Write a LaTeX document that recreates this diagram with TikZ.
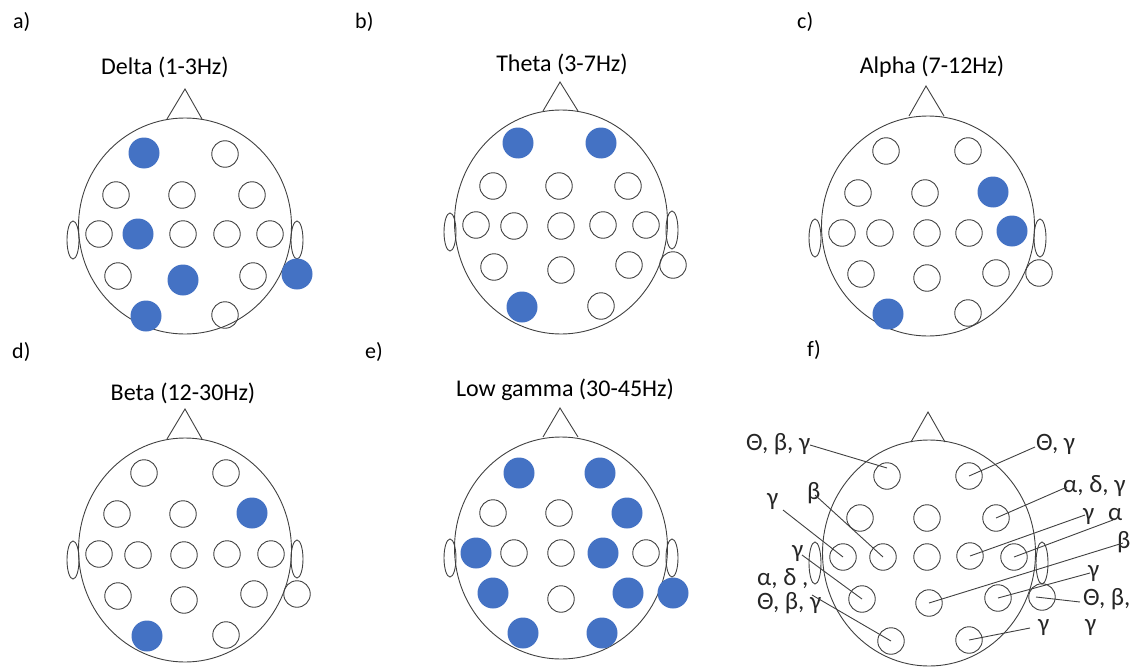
\documentclass[tikz,border=0pt]{standalone}
\usepackage{fontspec}
\setmainfont{Carlito}
\usetikzlibrary{shapes.geometric}
\definecolor{eblue}{HTML}{4472C4}
\definecolor{lgray}{HTML}{404040}
\tikzset{
  el/.style={circle, draw=lgray, line width=0.9pt, minimum size=26.5pt, inner sep=0pt},
  elf/.style={circle, fill=eblue, minimum size=31pt, inner sep=0pt},
  headc/.style={ellipse, draw=lgray, line width=0.9pt, inner sep=0pt, minimum width=213pt},
  nose/.style={draw=lgray, line width=0.9pt, line join=miter},
  ear/.style={ellipse, draw=lgray, line width=0.9pt, minimum width=12pt, minimum height=38pt, inner sep=0pt},
  ttl/.style={font=\fontsize{24}{28}\selectfont, inner sep=0pt, anchor=base},
  plabel/.style={font=\fontsize{22}{26}\selectfont, inner sep=0pt, anchor=base west},
  glbl/.style={font=\fontsize{25}{29}\selectfont, inner sep=0pt, anchor=base west, text=black!85},
  lead/.style={draw=lgray, line width=0.9pt},
}
\begin{document}
\begin{tikzpicture}[x=1pt,y=-1pt]
\useasboundingbox (0,0) rectangle (1142,666);
% panel letters
\node[plabel] (la) at (13,29) {a)};
\node[plabel] (lb) at (355,29) {b)};
\node[plabel] (lc) at (797,29) {c)};
\node[plabel] (ld) at (12,358) {d)};
\node[plabel] (le) at (365,358) {e)};
\node[plabel] (lf) at (807,356) {f)};
% titles
\node[ttl] (ta) at (165,75) {Delta (1-3Hz)};
\node[ttl] (tb) at (562,72) {Theta (3-7Hz)};
\node[ttl] (tc) at (932,74) {Alpha (7-12Hz)};
\node[ttl] (td) at (183,400) {Beta (12-30Hz)};
\node[ttl] (te) at (565,396) {Low gamma (30-45Hz)};
% heads
\node[headc, minimum height=216pt] (ha) at (185,226) {};
\draw[nose] (167,119) -- (185,89) -- (202,119);
\node[ear] (eal) at (73,240) {};
\node[ear] (ear) at (297,240) {};

\node[headc, minimum height=224pt] (hb) at (561,222) {};
\draw[nose] (543,111) -- (560,82) -- (578,111);
\node[ear] (ebl) at (450,232) {};
\node[ear] (ebr) at (672,230) {};

\node[headc, minimum height=220pt] (hc) at (928,226) {};
\draw[nose] (909,116) -- (926,86) -- (944,116);
\node[ear] (ecl) at (815,238) {};
\node[ear] (ecr) at (1040,238) {};

\node[headc, minimum height=224pt] (hd) at (185,550) {};
\draw[nose] (167,439) -- (185,409) -- (202,439);
\node[ear] (edl) at (73,560) {};
\node[ear] (edr) at (297,559) {};

\node[headc, minimum height=222pt] (he) at (561,548) {};
\draw[nose] (543,437) -- (560,408) -- (578,437);
\node[ear] (eel) at (450,558) {};
\node[ear] (eer) at (672,558) {};

\node[headc, minimum height=226pt] (hf) at (929,553) {};
\draw[nose] (911,442) -- (928,412) -- (945,442);
\node[ear, minimum height=42pt] (efl) at (815,563) {};
\node[ear, minimum height=42pt] (efr) at (1042,563) {};
% electrodes
\foreach \n/\x/\y/\s in {
 a1/144/153/elf, a2/225/154/el, a3/116/195/el, a4/182/195/el, a5/252/195/el,
 a6/99/234/el, a7/138/234/elf, a8/183/234/el, a9/227/234/el, a10/270/234/el,
 a11/118/276/el, a12/183/280/elf, a13/253/276/el, a14/297/274/elf,
 a15/146/316/elf, a16/225/315/el,
 b1/518/143/elf, b2/601/143/elf, b3/493/186/el, b4/559/186/el, b5/628/186/el,
 b6/476/225/el, b7/514/226/el, b8/561/226/el, b9/603/225/el, b10/646/225/el,
 b11/494/267/el, b12/561/270/el, b13/629/265/el, b14/673/265/el,
 b15/522/307/elf, b16/601/306/el,
 c1/886/151/el, c2/968/151/el, c3/858/193/el, c4/925/193/el, c5/993/192/elf,
 c6/842/233/el, c7/880/233/el, c8/927/233/el, c9/969/233/el, c10/1012/231/elf,
 c11/861/274/el, c12/927/278/el, c13/996/273/el, c14/1039/273/el,
 c15/888/314/elf, c16/968/313/el,
 d1/144/473/el, d2/226/473/el, d3/117/514/el, d4/183/514/el, d5/252/513/elf,
 d6/99/554/el, d7/138/555/el, d8/184/555/el, d9/227/554/el, d10/271/554/el,
 d11/118/596/el, d12/184/600/el, d13/254/594/el, d14/297/594/el,
 d15/147/636/elf, d16/226/635/el,
 e1/519/473/elf, e2/600/473/elf, e3/493/513/el, e4/559/513/el, e5/627/513/elf,
 e6/476/553/elf, e7/514/553/el, e8/561/553/el, e9/603/553/elf, e10/646/553/el,
 e11/493/593/elf, e12/561/599/el, e13/628/593/elf, e14/673/593/elf,
 e15/523/633/elf, e16/602/633/elf,
 f1/887/476/el, f2/969/476/el, f3/860/518/el, f4/927/518/el, f5/996/518/el,
 f6/843/557/el, f7/883/557/el, f8/927/557/el, f9/970/556/el, f10/1014/557/el,
 f11/862/599/el, f12/929/603/el, f13/998/598/el, f14/1042/597/el,
 f15/891/641/el, f16/969/640/el}
 {\node[\s] (\n) at (\x,\y) {};}
% panel f labels
\node[glbl] (g1) at (746,450) {Θ, β, γ};
\node[glbl] (g2) at (1036,450) {Θ, γ};
\node[glbl] (g3) at (1063,492) {α, δ, γ};
\node[glbl] (g4) at (1083,520) {γ};
\node[glbl] (g5) at (1108,520) {α};
\node[glbl] (g6) at (1117,548) {β};
\node[glbl] (g7) at (1088,577) {γ};
\node[glbl] (g8) at (1083,605) {Θ, β,};
\node[glbl] (g8b) at (1085,631) {γ};
\node[glbl] (g9) at (1038,631) {γ};
\node[glbl] (g10) at (807,499) {β};
\node[glbl] (g11) at (767,505) {γ};
\node[glbl] (g12) at (792,557) {γ};
\node[glbl] (g13) at (757,585) {α, δ ,};
\node[glbl] (g13b) at (757,609) {Θ, β, γ};
% leader start points
\coordinate (s1) at (810,445);
\coordinate (s2) at (1035,447);
\coordinate (s3) at (1067,487);
\coordinate (s4) at (1085,515);
\coordinate (s5) at (1113,520);
\coordinate (s6) at (1123,543);
\coordinate (s7) at (1090,573);
\coordinate (s8) at (1080,602);
\coordinate (s9) at (1030,628);
\coordinate (s10) at (815,495);
\coordinate (s11) at (783,510);
\coordinate (s12) at (802,555);
\coordinate (s13) at (812,595);
% leaders
\draw[lead] (s1) -- ([yshift=8pt]f1.center);
\draw[lead] (s2) -- (f2.center);
\draw[lead] (s3) -- (f5.center);
\draw[lead] (s4) -- (f9.center);
\draw[lead] (s5) -- (f10.center);
\draw[lead] (s6) -- (f12.center);
\draw[lead] (s7) -- (f13.center);
\draw[lead] (s8) -- ([xshift=-6pt]f14.center);
\draw[lead] (s9) -- (f16.center);
\draw[lead] (s10) -- (f7.center);
\draw[lead] (s11) -- (f6.center);
\draw[lead] (s12) -- (f11.center);
\draw[lead] (s13) -- (f15.center);
\end{tikzpicture}
\end{document}
